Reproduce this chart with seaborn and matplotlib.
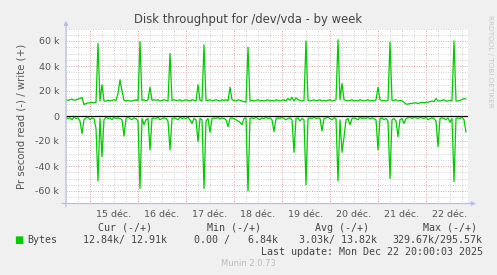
import matplotlib
matplotlib.use('Agg')
import matplotlib.pyplot as plt
import seaborn as sns
import pandas as pd
from matplotlib.ticker import FixedLocator, FuncFormatter

# ---------------- data (hourly samples, starting 14 Dec 12:00) ----------------
hours = list(range(201))
write_k = [
    13, 12.5, 13, 13.5, 12.5, 13, 13.5, 14, 15, 9,
    10, 10.5, 10.5, 11, 10.5, 11, 58, 12, 25, 12,
    12, 12.5, 12, 12.5, 13, 12.5, 18, 29, 20, 12.5,
    12, 12.5, 12, 12, 12.5, 13, 12, 59.5, 12.5, 13,
    12, 13, 23, 12.5, 13, 12.5, 13, 12, 12.5, 13,
    12.5, 12, 50, 12.5, 13, 12.5, 12.5, 13, 12, 12.5,
    13, 12.5, 12, 13, 12.5, 12, 25, 12.5, 12, 57,
    12.5, 12.5, 13, 12, 12.5, 13, 12.5, 12, 13, 12.5,
    13, 12, 23, 13, 12.5, 12, 13, 12.5, 12, 11.5,
    11, 55, 12, 12.5, 12, 12.5, 13, 12, 12.5, 12,
    12.5, 13, 12, 12.5, 12, 13, 12.5, 12, 12.5, 13,
    12, 14, 12.5, 15, 12, 14.5, 13, 12.5, 12, 12.5,
    60, 12.5, 12, 12.5, 13, 12, 12.5, 13, 12, 12.5,
    12, 12.5, 13, 12, 12.5, 13, 61, 13, 26, 13,
    12.5, 12, 12.5, 13, 12, 12.5, 12, 13, 12.5, 12,
    12.5, 13, 12, 12.5, 12, 13, 23, 13, 12, 12.5,
    12, 12.5, 59, 12.5, 12.5, 13, 12, 12.5, 12, 11,
    9.5, 9.5, 10, 10, 10.5, 10.5, 10, 10.5, 11, 10.5,
    11, 11, 11.5, 12, 11.5, 14, 12, 12, 12.5, 13,
    12, 12, 12.5, 12, 60, 12, 12, 12.5, 13, 14,
    13.5,
]
read_k = [
    -1, -2, -1.5, -3, -1, -2, -1.5, -4, -14, -3,
    -1.5, -1, -3, -1.5, -2, -10, -52, -2, -32.5, -3,
    -1, -2, -1.5, -3, -1, -2, -1.5, -2, -3, -16,
    -2, -1, -2, -3, -1.5, -2, -4, -58, -2, -7,
    -3, -2, -27, -2, -1.5, -2, -1, -3, -2, -1.5,
    -2, -4, -27, -2, -1.5, -2, -3, -1, -2, -1.5,
    -2, -1, -3, -6, -2, -3, -20.5, -2, -3, -58,
    -4, -2, -13, -2, -1.5, -2, -1, -2.5, -1.5, -2,
    -3, -8.5, -2, -1.5, -2, -3, -4, -5, -7, -2,
    -1.5, -60, -2, -1.5, -2, -1, -2, -3, -1.5, -2,
    -1, -2, -1.5, -3, -12.5, -2, -1.5, -2, -1, -2,
    -3, -2, -1.5, -3, -29, -2, -1.5, -4, -2, -3,
    -55, -2, -1.5, -2, -1, -2, -1.5, -2, -12, -2,
    -1.5, -1, -2, -3, -1.5, -2, -52, -3, -29, -17,
    -3, -2, -7, -2, -1.5, -2, -3, -1, -2, -1.5,
    -2, -1, -2.5, -1.5, -2, -3, -27, -2, -1.5, -3,
    -2, -4, -50, -3, -2, -4, -16.5, -3, -2, -6,
    -2, -1.5, -1, -2, -1, -1.5, -2, -1, -1.5, -2,
    -1, -3, -2, -1.5, -2, -4, -24.5, -2, -1.5, -2,
    -3, -1.5, -5, -2, -52.5, -2, -1.5, -2, -1, -3,
    -13,
]
day_labels = ['15 déc.', '16 déc.', '17 déc.', '18 déc.',
              '19 déc.', '20 déc.', '21 déc.', '22 déc.']
day_label_hours = [24, 48, 72, 96, 120, 144, 168, 192]
y_ticks = [-60000, -40000, -20000, 0, 20000, 40000, 60000]

legend_head = ['Cur (-/+)', 'Min (-/+)', 'Avg (-/+)', 'Max (-/+)']
legend_vals = ['12.84k/ 12.91k', '0.00 /   6.84k', '3.03k/ 13.82k', '329.67k/295.57k']

# ---------------- style ----------------
sns.set_theme(style='white')
plt.rcParams['font.family'] = ['DejaVu Sans']

W, H = 497, 275
fig = plt.figure(figsize=(W / 100, H / 100), dpi=100, facecolor='#F0F0F0')
ax = fig.add_axes([66 / W, 1 - 203.5 / H, 402 / W, 175 / H])
ax.set_facecolor('white')

x_max = 201
ax.set_xlim(0, x_max)
ax.set_ylim(-70000, 70000)

# grid
minor_c = '#D0D0D0'
major_c = '#E4A0A0'
for h in range(0, x_max + 1, 6):
    c = major_c if (h - 12) % 24 == 0 else minor_c
    ax.axvline(h, color=c, lw=0.7, ls=(0, (1, 1.5)), zorder=1)
for v in range(-65000, 70001, 5000):
    c = major_c if v % 20000 == 0 else minor_c
    ax.axhline(v, color=c, lw=0.7, ls=(0, (1, 1.5)), zorder=1)

ax.axhline(0, color='black', lw=0.9, zorder=2)

df = pd.DataFrame({
    'hour': hours + hours,
    'value': [v * 1000 for v in write_k] + [v * 1000 for v in read_k],
    'series': ['write'] * len(hours) + ['read'] * len(hours),
})
sns.lineplot(data=df, x='hour', y='value', hue='series',
             palette={'write': '#00CC00', 'read': '#00CC00'},
             estimator=None, lw=0.9, legend=False, ax=ax, zorder=3)

for s in ax.spines.values():
    s.set_visible(False)

ax.xaxis.set_major_locator(FixedLocator(day_label_hours))
ax.set_xticklabels(day_labels)
ax.yaxis.set_major_locator(FixedLocator(y_ticks))
ax.yaxis.set_major_formatter(FuncFormatter(lambda v, p: '0' if v == 0 else f'{int(v/1000)} k'))
ax.tick_params(axis='both', length=0, labelsize=6.8, labelcolor='#555555')
ax.tick_params(axis='x', pad=4.5)
ax.tick_params(axis='y', pad=5)
ax.set_xlabel('')
ax.set_ylabel('Pr second read (-) / write (+)', fontsize=7.3, color='#555555', labelpad=6)

# axis lines with arrows
axis_c = '#B8BEEA'
ax.annotate('', xy=(0, 1.045), xytext=(0, -0.02), xycoords='axes fraction',
            arrowprops=dict(arrowstyle='-|>', color=axis_c, lw=0.9, mutation_scale=6,
                            shrinkA=0, shrinkB=0), annotation_clip=False)
ax.annotate('', xy=(1.02, 0), xytext=(-0.01, 0), xycoords='axes fraction',
            arrowprops=dict(arrowstyle='-|>', color=axis_c, lw=0.9, mutation_scale=6,
                            shrinkA=0, shrinkB=0), annotation_clip=False)

def fx(px):
    return px / W

def fy(py):
    return 1 - py / H

fig.text(fx(248), fy(19), 'Disk throughput for /dev/vda - by week',
         ha='center', va='center', fontsize=8.4, color='#444444')
fig.text(fx(490), fy(15), 'RRDTOOL / TOBI OETIKER', rotation=270, ha='center', va='top',
         fontsize=5.2, color='#C8C8C8')

mono = 'DejaVu Sans Mono'
head_x = [98, 207, 315, 423]
val_x = [83, 194, 299, 392]
for t, x in zip(legend_head, head_x):
    fig.text(fx(x), fy(228), t, ha='left', va='center', fontsize=7.2, family=mono, color='#444444')
for t, x in zip(legend_vals, val_x):
    fig.text(fx(x), fy(240), t, ha='left', va='center', fontsize=7.2, family=mono, color='#444444')
fig.text(fx(14), fy(240), '■', ha='left', va='center', fontsize=7, color='#00CC00')
fig.text(fx(27), fy(240), 'Bytes', ha='left', va='center', fontsize=7.2, family=mono, color='#444444')
fig.text(fx(483), fy(252), 'Last update: Mon Dec 22 20:00:03 2025', ha='right', va='center',
         fontsize=7.2, family=mono, color='#444444')
fig.text(fx(248), fy(263), 'Munin 2.0.73', ha='center', va='center', fontsize=6, color='#BBBBBB')

fig.savefig('out.png', dpi=100, facecolor='#F0F0F0')
